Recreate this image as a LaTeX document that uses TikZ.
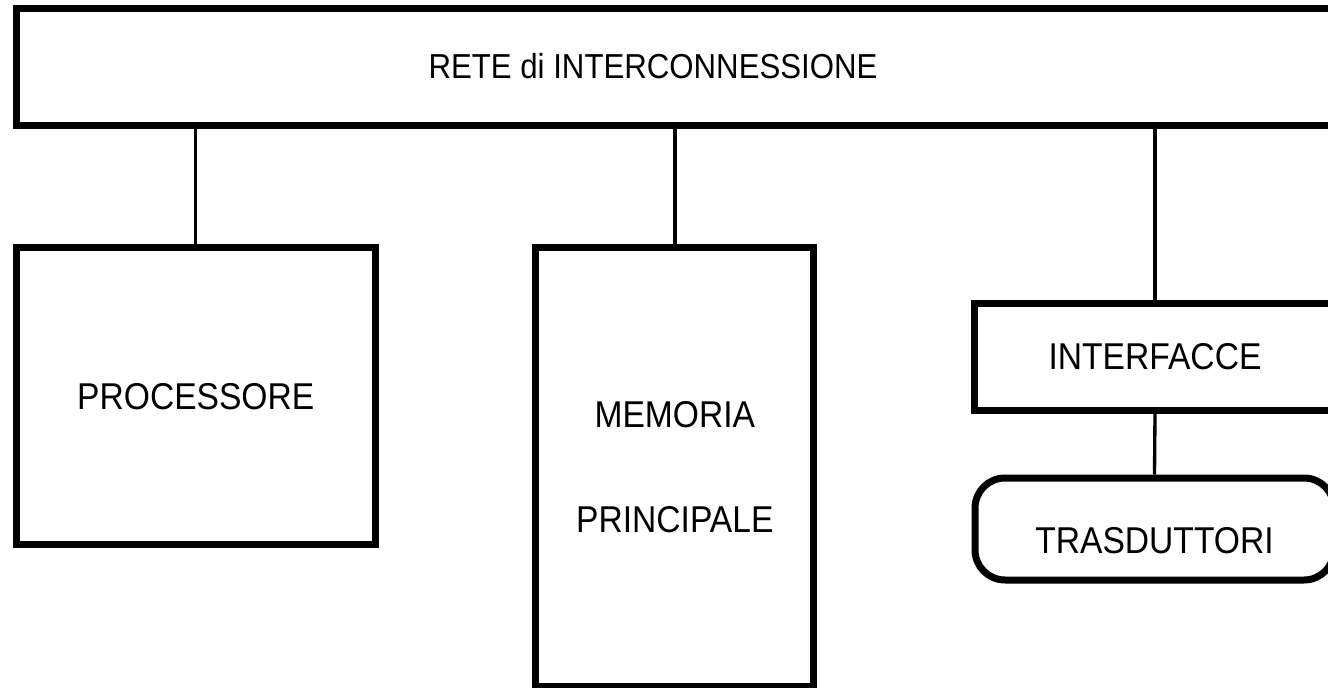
\documentclass[tikz,border=0pt]{standalone}
\usepackage{fontspec}
\setmainfont{Liberation Sans}[FakeStretch=0.9]
\usepackage{tikz}

\tikzset{
	blocco/.style={draw, line width=5.25pt, inner sep=0pt, align=center, font=\fontsize{28}{33}\selectfont},
	filo/.style={line width=2.5pt}
}

\begin{document}
\begin{tikzpicture}[x=0.75pt, y=-0.75pt]
				\useasboundingbox (0,0) rectangle (1328,688);
				\clip (0,0) rectangle (1328,688);
				\node[blocco, minimum width=996.4pt, minimum height=87.4pt] (rete) at (680.75,66.75) {};
				\node[font=\fontsize{26}{31}\selectfont, inner sep=0pt] (reteT) at (653,66) {RETE di INTERCONNESSIONE};
				\node[blocco, minimum width=268.9pt, minimum height=223.1pt] (proc) at (195.75,396.25) {PROCESSORE};
				\node[blocco, minimum width=208.7pt, minimum height=329.6pt] (mem) at (674.85,467.25) {MEMORIA\\[45.75pt]PRINCIPALE};
				\node[blocco, minimum width=271.5pt, minimum height=80.6pt] (interf) at (1155,356.75) {INTERFACCE};
				\node[blocco, rounded corners=22.5pt, minimum width=269.25pt, minimum height=76.5pt, text height=36pt, text depth=0pt] (trasd) at (1154.5,529) {TRASDUTTORI};
				\draw[filo] (proc.north) -- (proc.north |- rete.south);
				\draw[filo] (mem.north) -- (mem.north |- rete.south);
				\draw[filo] (interf.north) -- (interf.north |- rete.south);
				\draw[filo] (trasd.north) -- (interf.south);
			\end{tikzpicture}
\end{document}
